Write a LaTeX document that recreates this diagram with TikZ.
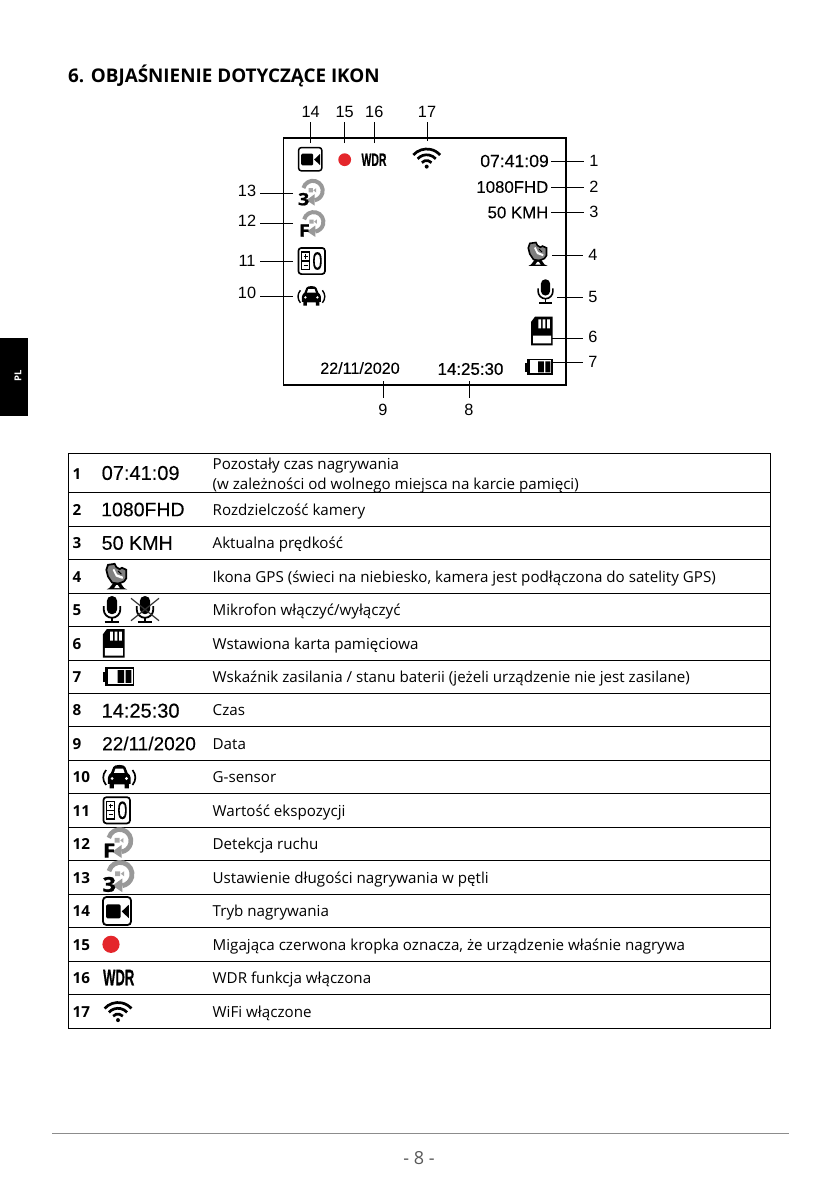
\documentclass[tikz,border=0pt]{standalone}
\usepackage{fontspec}
\setmainfont{Open Sans}
\newfontfamily\arialn{Liberation Sans}
\newfontfamily\arialf[FakeBold=0.08]{Liberation Sans}
\newfontfamily\arialb[FakeBold=0.6]{Liberation Sans}
\newfontfamily\wdrf[FakeBold=0.7]{Liberation Sans Bold}
\newcommand\fs[1]{\fontsize{#1}{#1}\selectfont}
\definecolor{recred}{HTML}{E4262B}
\definecolor{loopgray}{HTML}{999999}
\def\ks{1}
\newcommand\micbody{%
  \fill[rounded corners=\ks*4.4pt] (-4.6,-12) rectangle (4.6,4.2);
  \draw[line width=\ks*1.6pt] (-7.4,-3) -- (-7.4,0) arc (180:0:7.4) -- (7.4,-3);
  \draw[line width=\ks*1.6pt] (0,7.4) -- (0,11.4) (-6.5,11.4) -- (6.5,11.4);}
\newcommand\loopbody{%
  \draw[loopgray,line width=\ks*4pt] (1.9,-2.4) ++(-165:9.8) arc (-165:80:9.8);
  \fill[loopgray] (-4.6,7.2) -- (3.6,1.2) -- (3.6,12.6) -- cycle;
  \fill[loopgray!85] (-2.4,-4.8) rectangle (1.8,-.7) (2.4,-2.7) -- (5.2,-4.9) -- (5.2,-.5) -- cycle;}
\tikzset{
  ks/.code={\def\ks{#1}},
  ik/.style={scale=#1,ks=#1},
  conn/.style={line width=1pt,black},
  num/.style={font=\arialn\fs{16.3},inner sep=4pt},
  lownum/.style={num,inner sep=6.5pt},
  rightnum/.style={num,inner sep=5pt},
  screen/.style={font=\arialf\fs{#1},inner sep=0pt,text=black},
  screenb/.style={font=\arialb\fs{#1},inner sep=0pt,text=black},
  rule/.style={line width=1pt,black},
  cell/.style={anchor=base west,inner sep=0pt,font=\fs{15.15}},
  rownum/.style={anchor=base west,inner sep=0pt,font=\fs{15.2}\bfseries},
  video/.pic={
    \draw[line width=\ks*1.5pt,rounded corners=\ks*3pt] (-11.7,-11.7) rectangle (11.7,11.7);
    \fill[rounded corners=\ks*1.2pt] (-9,-5.6) rectangle (3,6.2);
    \fill (4,0.3) -- (9.8,-5.2) -- (9.8,6) -- cycle;},
  wifi/.pic={
    \fill (0,8.6) circle[radius=2];
    \draw[line width=2.7pt] (0,9) ++(-138:6.5) arc (-138:-42:6.5);
    \draw[line width=2.7pt] (0,9) ++(-138:12.2) arc (-138:-42:12.2);
    \draw[line width=2.7pt] (0,9) ++(-138:18) arc (-138:-42:18);},
  mic/.pic={\micbody},
  micoff/.pic={\micbody
    \draw[line width=\ks*1.1pt,black!80] (-12.5,-10) -- (12.5,10) (12.5,-10) -- (-12.5,10);},
  sdcard/.pic={
    \fill (-10.8,-9) -- (-6.8,-14.3) -- (10.8,-14.3) -- (10.8,14.3) -- (-10.8,14.3) -- cycle;
    \fill[white] (-3.5,-11.7) rectangle (-0.8,-2.7) (0.9,-11.7) rectangle (3.6,-2.7) (5.4,-11.7) rectangle (8.1,-2.7) (-8.8,4.7) rectangle (9.2,12.3);},
  battery/.pic={
    \fill (-13.9,-3.7) rectangle (-11.6,5.2);
    \fill (-11.6,-8.1) rectangle (13.9,8.4);
    \fill[white] (-9,-6.4) rectangle (12.2,6.7);
    \fill (-.8,-5.4) rectangle (4.9,5.7) (6.3,-5.4) rectangle (11.3,5.7);},
  gps/.pic={
    \filldraw[fill=black!50,line width=\ks*1.6pt,line join=miter] (-8.2,-10.6) -- (-2.1,-11.5) -- (-.6,-8.5) -- (2.4,-6.7) -- (4.5,-7.9) -- (8.5,-6.1) -- (8.5,1.5) -- (6.4,4.5) -- (.9,6.7) -- (-4.5,5.5) -- (-8.2,0) -- (-9.7,-6) -- cycle;
    \fill[white] (-4,-6) -- (-1,0) -- (5,2.2) -- (5.5,.2) -- (0,-2) -- (-2.5,-7) -- cycle;
    \draw[line width=\ks*1pt] (1,-5) -- (4,-2);
    \fill (-3,5.5) -- (-7,10.5) -- (-9.5,11.8) -- (9.5,11.8) -- (6.5,10.5) -- (3,5.5) -- cycle;
    \fill[white] (-.7,7.8) -- (-2.6,10.6) -- (2.6,10.6) -- (.7,7.8) -- cycle;},
  gsensor/.pic={
    \fill (-9.5,6) -- (-9.5,1) .. controls (-9.5,-1) and (-8,-2) .. (-7,-3) -- (-5,-8) .. controls (-4,-10.3) and (4,-10.3) .. (5,-8) -- (7,-3) .. controls (8,-2) and (9.5,-1) .. (9.5,1) -- (9.5,6) -- (8,6) -- (8,9.8) -- (4.5,9.8) -- (4.5,6.5) -- (-4.5,6.5) -- (-4.5,9.8) -- (-8,9.8) -- (-8,6) -- cycle;
    \fill[white] (-4.4,-3.2) -- (-3.2,-6.6) -- (3.2,-6.6) -- (4.4,-3.2) -- cycle;
    \fill[white] (-6,1.6) circle[radius=1.3] (6,1.6) circle[radius=1.3];
    \draw[line width=\ks*1.4pt] (-11,-5.5) .. controls (-14.2,-1.5) and (-14.2,3) .. (-11,7) (11,-5.5) .. controls (14.2,-1.5) and (14.2,3) .. (11,7);},
  evbox/.pic={
    \draw[line width=\ks*1.7pt,rounded corners=\ks*3pt] (-13.3,-13.1) rectangle (13.3,13.1);
    \draw[line width=\ks*1.3pt] (-10,-9) rectangle (-2,8.8);
    \draw[line width=\ks*1.3pt] (-10,0) -- (-2,0) (-8.2,-4.5) -- (-3.8,-4.5) (-6,-6.8) -- (-6,-2.2) (-8.2,4.5) -- (-3.8,4.5);
    \node[font=\arialf\fs{25},inner sep=0pt,xscale=.72,transform shape] (ev0) at (5.7,0) {0};},
  loopf/.pic={\loopbody
    \node[font=\fs{17}\bfseries\addfontfeature{FakeBold=1.2},inner sep=0pt,xscale=1.15,transform shape] (lf) at (-7.3,6.2) {F};},
  loopt/.pic={\loopbody
    \node[font=\fs{17}\bfseries\addfontfeature{FakeBold=1.2},inner sep=0pt,xscale=1.15,transform shape] (lt) at (-7.3,6.2) {3};},
  wdr/.pic={
    \node[font=\wdrf\fs{18},inner sep=0pt,xscale=.58,transform shape] (wd) at (0,0) {WDR};},
}
\begin{document}
\begin{tikzpicture}[x=1pt,y=-1pt]
\useasboundingbox (0,0) rectangle (839,1191);
\fill[white] (0,0) rectangle (839,1191);
% side tab
\fill[black] (0,338) rectangle (28,416);
\node[rotate=90,text=white,font=\fs{9.5}\bfseries,inner sep=0pt] (tab) at (18,376) {PL};
% title
\node[anchor=base west,inner sep=0pt,font=\fs{18.85}\bfseries] (title) at (68,82.5) {6. OBJAŚNIENIE DOTYCZĄCE IKON};
% screen frame
\draw[line width=1.4pt] (283.5,138) rectangle (566,385);
% screen contents
\node[screen=17.6,anchor=east] (s1) at (549,161) {07:41:09};
\node[screen=16.8,anchor=east] (s2) at (548.5,187) {1080FHD};
\node[screen=16.8,anchor=east] (s3) at (548.5,212.5) {50 KMH};
\node[screen=16.1] (s9) at (360,368) {22/11/2020};
\node[screenb=16.9] (s8) at (470.5,369) {14:25:30};
\pic at (310.2,159.2) {video};
\fill[recred] (344.7,159.7) circle[radius=6.4];
\pic at (374,159.7) {wdr};
\pic at (426.7,158) {wifi};
\pic at (311,193) {loopt};
\pic at (311.7,224.3) {loopf};
\pic at (311.7,261) {evbox};
\pic at (311.4,295.8) {gsensor};
\pic at (538,254) {gps};
\pic at (545.5,291.3) {mic};
\pic at (541.8,331) {sdcard};
\pic at (539,366.7) {battery};
% callout numbers and leaders
\foreach \n/\x/\y/\ex/\ey/\sty in {
  1/594/160.5/551/161/rightnum, 2/594/186.5/551/187/rightnum, 3/594/212/551/212.5/rightnum,
  4/593/254.5/552/255.7/rightnum, 5/593/297/557/297.3/rightnum, 6/593/337/552/338/rightnum, 7/593/361.5/552/362.7/rightnum,
  8/469/410/469/381/lownum, 9/383/410/383/381/lownum,
  10/247/293/293/296/num, 11/247/260.5/293/261/num, 12/247/221/293/223/num, 13/247/191/293/193/num,
  14/310.7/112/310.7/143/num, 15/344.7/112/344.7/143/num, 16/374.3/112/374.3/143/num, 17/427/112/427/141/num}{
  \node[\sty] (n\n) at (\x,\y) {\n};
  \coordinate (e\n) at (\ex,\ey);
}
\foreach \n in {1,2,3,4,5,6,7}{\draw[conn] (e\n) -- (e\n -| n\n.west);}
\foreach \n in {10,11,12,13}{\draw[conn] (e\n) -- (e\n -| n\n.east);}
\foreach \n in {8,9}{\draw[conn] (e\n) -- (n\n.north);}
\foreach \n in {14,15,16,17}{\draw[conn] (e\n) -- (n\n.south);}
% table
\draw[rule] (68.3,453.7) rectangle (770.5,1028.3);
\foreach \y in {492.5,526.3,559.5,593.5,626.3,660,693.3,726.5,760,793.7,827.3,860.5,894.3,927.7,961.3,994.5}{
  \draw[rule] (68.3,\y) -- (770.5,\y);}
\foreach \n/\y in {1/479,2/515,3/548.5,4/582,5/615.5,6/649,7/682.5,8/715.5,9/749,10/782.5,11/816,12/849.5,13/883,14/916.5,15/950,16/983.5,17/1017}{
  \node[rownum] (r\n) at (72.5,\y) {\n};}
\node[cell] (t1a) at (212.5,469) {Pozostały czas nagrywania};
\node[cell] (t1b) at (212.5,489.5) {(w zależności od wolnego miejsca na karcie pamięci)};
\foreach \n/\y/\t in {2/515/{Rozdzielczość kamery},3/548.5/{Aktualna prędkość},
  4/582/{Ikona GPS (świeci na niebiesko, kamera jest podłączona do satelity GPS)},
  5/615.5/{Mikrofon włączyć/wyłączyć},6/649/{Wstawiona karta pamięciowa},
  7/682.5/{Wskaźnik zasilania / stanu baterii (jeżeli urządzenie nie jest zasilane)},
  8/715.5/{Czas},9/749/{Data},10/782.5/{G-sensor},11/816/{Wartość ekspozycji},
  12/849.5/{Detekcja ruchu},13/883/{Ustawienie długości nagrywania w pętli},
  14/916.5/{Tryb nagrywania},15/950/{Migająca czerwona kropka oznacza, że urządzenie właśnie nagrywa},
  16/983.5/{WDR funkcja włączona},17/1017/{WiFi włączone}}{
  \node[cell] (t\n) at (212.5,\y) {\t};}
% table icons
\node[screen=20,anchor=west] (i1) at (101.5,473) {07:41:09};
\node[screen=19.5,anchor=west] (i2) at (101,509.5) {1080FHD};
\node[screen=19.7,anchor=west] (i3) at (101.5,543) {50 KMH};
\node[screenb=20,anchor=west] (i8) at (101.5,710.7) {14:25:30};
\node[screen=19,anchor=west] (i9) at (102,743.5) {22/11/2020};
\pic[ik=1.1] at (117,576.5) {gps};
\pic[ik=1.12] at (112,609.5) {mic};
\pic[ik=1.12] at (145,609.5) {micoff};
\pic at (113.7,643.3) {sdcard};
\pic[ik=1.15] at (118.5,676.3) {battery};
\pic[ik=1.2] at (119.3,776.6) {gsensor};
\pic at (116.7,810.3) {evbox};
\pic[ik=1.15] at (117.5,843.5) {loopf};
\pic[ik=1.2] at (118,877) {loopt};
\pic[ik=1.2] at (117,911) {video};
\fill[recred] (111,944.3) circle[radius=8.6];
\pic[ik=1.25] at (118.7,977.5) {wdr};
\pic at (118,1011.5) {wifi};
% footer
\draw[line width=.7pt,black!45] (52,1133) -- (789,1133);
\node[font=\fs{18},text=black!65,inner sep=0pt] (pg) at (419,1158) {- 8 -};
\end{tikzpicture}
\end{document}
